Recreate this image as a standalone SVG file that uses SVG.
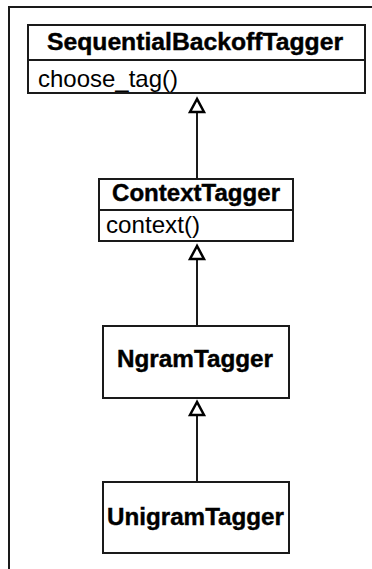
<svg xmlns="http://www.w3.org/2000/svg" width="372" height="569" viewBox="0 0 372 569">
<style>
.box{fill:#fff;stroke:#1a1a1a;stroke-width:2}
.div{stroke:#1a1a1a;stroke-width:2}
.t{font-family:"Liberation Sans",Arial,sans-serif;font-weight:bold;font-size:23px;fill:#000;stroke:#000;stroke-width:0.4}
.m{font-family:"Liberation Sans",Arial,sans-serif;font-size:24px;fill:#000}
.edge{stroke:#1a1a1a;stroke-width:2;fill:none}
.head{fill:#fff;stroke:#000;stroke-width:2.5;stroke-linejoin:miter}
</style>
<rect x="9" y="7" width="400" height="600" fill="#fff" stroke="#1a1a1a" stroke-width="2"/>
<g id="SequentialBackoffTagger">
<rect class="box" x="28" y="25" width="337" height="68"/>
<line class="div" x1="28" y1="60" x2="365" y2="60"/>
<text class="t" x="47" y="50" textLength="296" lengthAdjust="spacingAndGlyphs">SequentialBackoffTagger</text>
<text class="m" x="38" y="87" textLength="140" lengthAdjust="spacingAndGlyphs">choose_tag()</text>
</g>
<g id="ContextTagger">
<rect class="box" x="99" y="179" width="194" height="62"/>
<line class="div" x1="99" y1="210" x2="293" y2="210"/>
<text class="t" x="112" y="201" textLength="168" lengthAdjust="spacingAndGlyphs">ContextTagger</text>
<text class="m" x="106" y="233" textLength="94" lengthAdjust="spacingAndGlyphs">context()</text>
</g>
<g id="NgramTagger">
<rect class="box" x="103" y="326" width="186" height="72"/>
<text class="t" x="117" y="367" textLength="156" lengthAdjust="spacingAndGlyphs">NgramTagger</text>
</g>
<g id="UnigramTagger">
<rect class="box" x="103" y="482" width="186" height="71"/>
<text class="t" x="107" y="525" textLength="177" lengthAdjust="spacingAndGlyphs">UnigramTagger</text>
</g>
<g id="connectors">
<line class="edge" x1="197" y1="179" x2="197" y2="112"/>
<polygon class="head" points="197,99 190,112 204,112"/>
<line class="edge" x1="197" y1="326" x2="197" y2="259"/>
<polygon class="head" points="197,246 190,259 204,259"/>
<line class="edge" x1="197" y1="482" x2="197" y2="415"/>
<polygon class="head" points="197,402 190,415 204,415"/>
</g>
</svg>
